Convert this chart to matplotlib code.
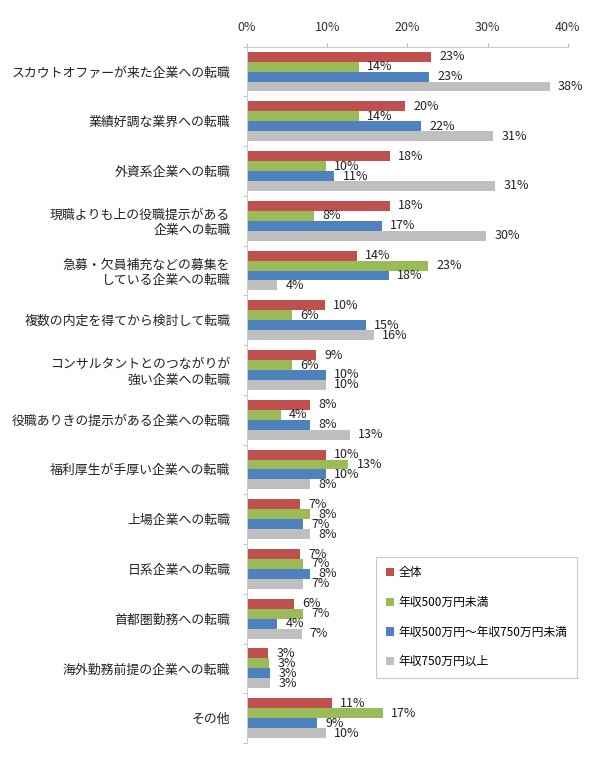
import matplotlib
matplotlib.use("Agg")
import matplotlib.pyplot as plt
import numpy as np

plt.rcParams['font.family'] = ['Noto Sans CJK JP', 'DejaVu Sans']

# categories, top to bottom
categories = [
    "スカウトオファーが来た企業への転職",
    "業績好調な業界への転職",
    "外資系企業への転職",
    "現職よりも上の役職提示がある\n企業への転職",
    "急募・欠員補充などの募集を\nしている企業への転職",
    "複数の内定を得てから検討して転職",
    "コンサルタントとのつながりが\n強い企業への転職",
    "役職ありきの提示がある企業への転職",
    "福利厚生が手厚い企業への転職",
    "上場企業への転職",
    "日系企業への転職",
    "首都圏勤務への転職",
    "海外勤務前提の企業への転職",
    "その他",
]

series_names = ["全体", "年収500万円未満", "年収500万円～年収750万円未満", "年収750万円以上"]

zentai = [22.9, 19.7, 17.8, 17.8, 13.7, 9.7, 8.6, 7.9, 9.8, 6.6, 6.6, 5.8, 2.6, 10.6]
under500 = [13.9, 13.9, 9.8, 8.3, 22.6, 5.6, 5.6, 4.2, 12.6, 7.9, 7.0, 7.0, 2.8, 16.9]
mid500_750 = [22.7, 21.7, 10.9, 16.8, 17.7, 14.8, 9.8, 7.8, 9.8, 7.0, 7.8, 3.8, 2.9, 8.7]
over750 = [37.7, 30.7, 30.9, 29.8, 3.8, 15.8, 9.8, 12.8, 7.8, 7.9, 7.0, 6.8, 2.9, 9.8]

colors = ["#C0504D", "#9BBB59", "#4F81BD", "#BFBFBF"]

fig = plt.figure(figsize=(5.9, 7.57), dpi=100)
ax = fig.add_axes([0.4186, 0.0185, 0.5441, 0.9198])

n = len(categories)
y = np.arange(n)
h = 0.2
all_series = [zentai, under500, mid500_750, over750]

for i, (vals, col, name) in enumerate(zip(all_series, colors, series_names)):
    ypos = y - 0.3 + i * h
    ax.barh(ypos, vals, height=h, color=col, label=name)
    for yy, v in zip(ypos, vals):
        ax.annotate("%.0f%%" % v, (v, yy), xytext=(6, 0), textcoords="offset points",
                    va="center", ha="left", fontsize=9, color="#222222")

ax.set_ylim(n - 0.5, -0.5)
ax.set_xlim(0, 40)
ax.set_xticks([0, 10, 20, 30, 40])
ax.set_xticklabels(["0%", "10%", "20%", "30%", "40%"], fontsize=9, color="#333333")
ax.xaxis.tick_top()
ax.tick_params(axis='x', direction='out', length=3, color="#BBBBBB", pad=6)

ax.set_yticks(y)
ax.set_yticklabels(categories, fontsize=9.3, color="#222222", ha="right")
ax.tick_params(axis='y', which='major', length=0, pad=12)
ax.set_yticks(np.arange(-0.5, n, 1), minor=True)
ax.tick_params(axis='y', which='minor', length=3, color="#BBBBBB")

for s in ["right", "bottom"]:
    ax.spines[s].set_visible(False)
for s in ["top", "left"]:
    ax.spines[s].set_color("#CCCCCC")

leg = fig.legend(loc="lower left", bbox_to_anchor=(0.638, 0.105), fontsize=8.5,
                 frameon=True, fancybox=False, edgecolor="#BBBBBB",
                 handlelength=0.7, handleheight=0.7, handletextpad=0.4,
                 labelspacing=1.4, borderpad=0.8, borderaxespad=0)
leg.get_frame().set_linewidth(0.8)

fig.savefig("out.png", dpi=100)
